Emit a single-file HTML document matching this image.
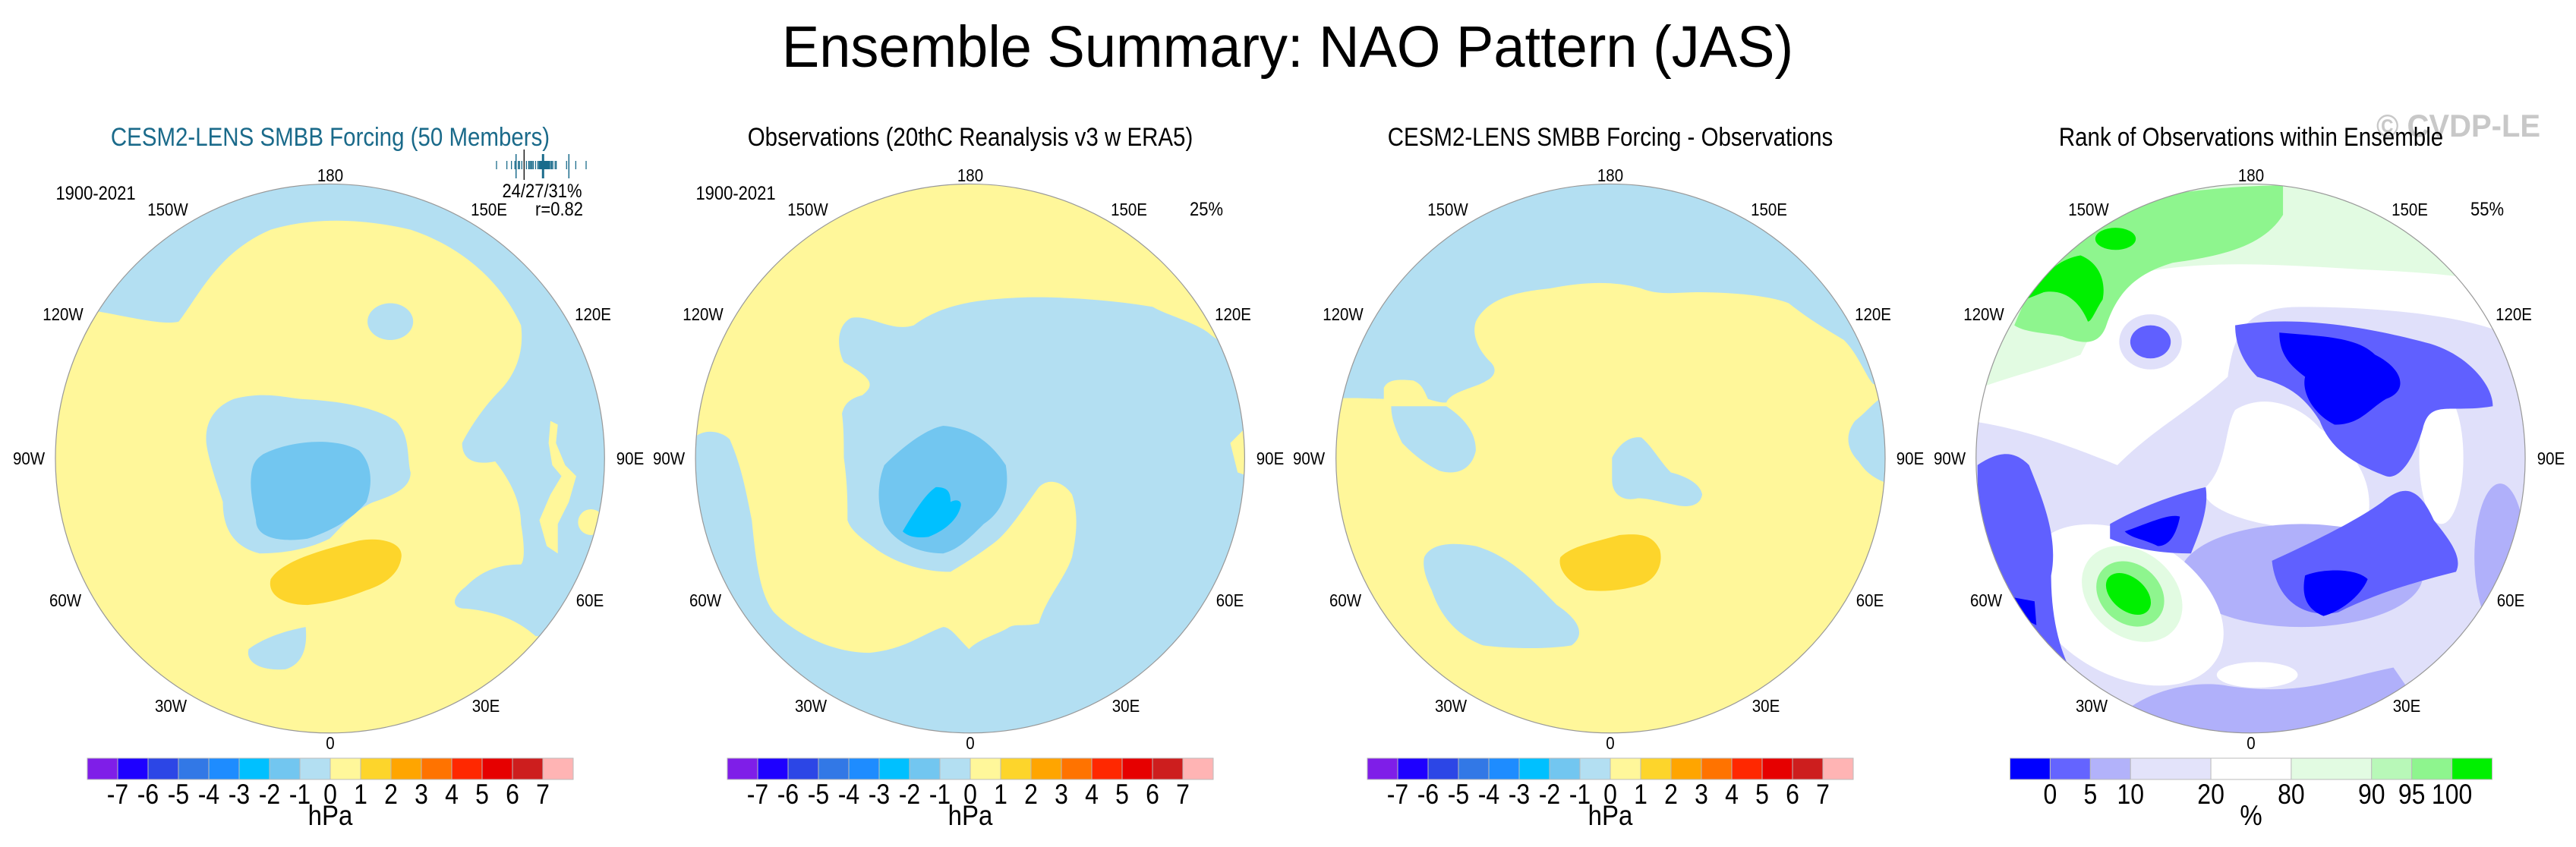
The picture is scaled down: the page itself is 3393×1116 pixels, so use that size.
<!DOCTYPE html>
<html><head><meta charset="utf-8"><title>Ensemble Summary: NAO Pattern (JAS)</title>
<style>html,body{margin:0;padding:0;background:#fff;}svg{display:block;font-family:"Liberation Sans",sans-serif;}</style>
</head><body>
<svg id="fig" xmlns="http://www.w3.org/2000/svg" width="3393" height="1116" viewBox="0 0 3393 1116">
<defs>
<clipPath id="c1"><circle cx="781" cy="782" r="746"/></clipPath>
<clipPath id="c2"><circle cx="773" cy="782" r="746"/></clipPath>
<clipPath id="c3"><circle cx="766" cy="782" r="746"/></clipPath>
<clipPath id="c4"><circle cx="762" cy="782" r="746"/></clipPath>
</defs>
<rect width="3393" height="1116" fill="#fff"/>

<!-- Panel 1 map -->
<g transform="translate(56,225) scale(0.4848)">
<g clip-path="url(#c1)">
<rect x="0" y="0" width="1600" height="1600" fill="#fff79a"/>
<path fill="#b3dff2" d="M150,382 C250,400 330,420 370,410 C430,330 480,220 620,160 C720,130 850,125 1000,160 C1150,210 1250,310 1300,420 C1310,500 1280,560 1240,600 C1200,640 1160,700 1140,740 C1140,790 1180,800 1230,790 C1270,840 1300,900 1300,960 C1310,1020 1310,1060 1300,1070 C1250,1070 1200,1080 1150,1130 C1110,1160 1110,1190 1150,1190 C1250,1200 1300,1230 1340,1265 L1600,1265 L1600,0 L0,0 L0,382 Z"/>
<path fill="#fff79a" d="M1380,680 L1400,690 L1395,740 L1420,800 L1450,830 L1430,900 L1400,960 L1400,1040 L1370,1020 L1350,950 L1380,880 L1410,830 L1385,800 L1375,740 Z"/>
<ellipse fill="#fff79a" cx="1490" cy="955" rx="35" ry="35"/>
<ellipse fill="#b3dff2" cx="945" cy="410" rx="62" ry="50"/>
<path fill="#b3dff2" d="M520,620 C600,600 650,615 700,620 C800,625 900,640 960,680 C1000,720 990,780 1000,820 C1000,860 960,880 900,900 C850,920 820,960 780,1000 C720,1030 650,1040 590,1040 C510,1020 490,960 490,900 C470,840 450,780 445,740 C440,680 470,640 520,620 Z"/>
<path fill="#72c6f0" d="M600,770 C680,730 800,725 860,760 C900,800 895,860 880,900 C840,950 780,980 720,1000 C650,1010 580,1000 580,950 C570,900 560,850 570,810 C575,790 585,780 600,770 Z"/>
<path fill="#fdd52b" d="M620,1110 C650,1060 760,1030 860,1005 C920,995 980,1010 975,1050 C970,1090 940,1120 880,1140 C830,1160 780,1175 720,1180 C650,1180 610,1150 620,1110 Z"/>
<path fill="#b3dff2" d="M560,1300 C600,1270 660,1250 715,1240 C720,1290 710,1340 660,1355 C600,1360 550,1340 560,1300 Z"/>
</g>
<circle cx="781" cy="782" r="746" fill="none" stroke="#999" stroke-width="2.5"/>
</g>

<!-- Panel 2 map -->
<g transform="translate(903,225) scale(0.4848)">
<g clip-path="url(#c2)">
<rect x="0" y="0" width="1600" height="1600" fill="#b3dff2"/>
<path fill="#fff79a" d="M0,0 L1568,0 L1568,480 C1500,480 1450,470 1420,440 C1380,410 1300,390 1270,370 C1150,350 1000,340 900,345 C800,350 700,360 620,420 C560,440 500,390 450,400 C410,420 410,480 430,520 C500,560 520,580 480,610 C440,620 430,640 425,660 C430,700 430,740 430,780 C440,850 440,900 440,950 C450,980 480,1000 520,1030 C580,1070 650,1090 720,1090 C770,1060 800,1040 840,1010 C880,980 930,900 960,860 C990,830 1030,850 1050,880 C1070,940 1060,1000 1050,1050 C1030,1110 980,1160 960,1230 C920,1240 900,1230 880,1240 C850,1260 800,1270 770,1300 C740,1270 720,1240 700,1240 C640,1260 600,1300 500,1310 C400,1310 300,1260 240,1200 C200,1150 190,1050 180,950 C160,850 150,800 120,730 C100,710 60,700 30,720 L0,720 Z"/>
<path fill="#fff79a" d="M1480,740 L1520,700 L1530,830 L1500,820 Z"/>
<path fill="#72c6f0" d="M540,800 C600,740 660,700 700,693 C780,700 830,740 870,800 C880,860 870,920 810,960 C770,1000 740,1030 700,1040 C630,1040 570,1010 540,960 C520,910 520,850 540,800 Z"/>
<path fill="#00c0ff" d="M590,980 C620,930 650,880 680,860 C710,860 720,870 720,900 C740,890 750,900 748,910 C740,950 700,980 660,995 C620,1000 600,990 590,980 Z"/>
</g>
<circle cx="773" cy="782" r="746" fill="none" stroke="#999" stroke-width="2.5"/>
</g>

<!-- Panel 3 map -->
<g transform="translate(1750,225) scale(0.4848)">
<g clip-path="url(#c3)">
<rect x="0" y="0" width="1600" height="1600" fill="#fff79a"/>
<path fill="#b3dff2" d="M0,620 C60,615 120,620 150,620 L150,590 C160,570 180,565 230,570 C255,580 260,600 270,620 C300,630 310,630 320,630 C330,600 400,590 430,570 C450,560 460,540 440,520 C400,480 390,440 400,410 C430,350 500,330 600,320 C700,300 780,300 850,320 C900,340 950,330 1000,330 C1100,330 1200,340 1250,360 C1300,400 1350,430 1400,460 C1440,500 1460,560 1480,580 L1568,580 L1568,0 L0,0 Z"/>
<path fill="#b3dff2" d="M170,640 C230,640 280,640 320,640 C380,680 400,720 400,760 C390,810 350,830 300,815 C250,790 220,760 200,740 C180,700 170,670 170,640 Z"/>
<path fill="#b3dff2" d="M1568,590 C1500,600 1480,640 1430,680 C1400,720 1410,760 1440,790 C1460,820 1490,850 1568,860 Z"/>
<path fill="#b3dff2" d="M770,780 C790,740 820,720 850,725 C880,750 900,790 930,820 C970,830 1010,850 1015,880 C1010,910 980,915 950,910 C900,900 870,890 840,890 C800,900 770,880 770,840 Z"/>
<path fill="#b3dff2" d="M260,1050 C280,1010 340,1010 400,1020 C500,1050 560,1120 620,1180 C680,1220 700,1260 660,1290 C600,1300 500,1300 420,1290 C340,1260 300,1200 280,1140 C260,1100 255,1070 260,1050 Z"/>
<path fill="#fdd52b" d="M630,1050 C660,1020 720,1010 790,990 C850,985 880,990 900,1030 C910,1070 890,1110 850,1125 C800,1140 750,1145 700,1140 C650,1120 620,1080 630,1050 Z"/>
</g>
<circle cx="766" cy="782" r="746" fill="none" stroke="#999" stroke-width="2.5"/>
</g>

<!-- Panel 4 map -->
<g transform="translate(2595,225) scale(0.4848)">
<g clip-path="url(#c4)">
<rect x="0" y="0" width="1600" height="1600" fill="#ffffff"/>
<path fill="#e2fbe2" d="M0,0 L1568,0 L1568,340 C1400,290 1300,280 1100,270 C900,260 700,240 500,270 C400,300 350,400 300,500 C200,540 100,560 0,600 Z"/>
<path fill="#8ef58e" d="M120,420 C200,220 300,150 450,80 C600,50 750,40 850,40 L850,120 C800,200 700,230 550,250 C450,280 400,330 370,420 C350,480 300,470 250,450 C200,440 150,440 120,420 Z"/>
<path fill="#00f000" d="M150,350 C200,280 240,240 300,230 C350,250 370,300 360,350 C340,380 330,410 320,410 C300,360 260,320 200,330 Z"/>
<ellipse fill="#00f000" cx="395" cy="185" rx="55" ry="30"/>
<path fill="#e0e0fa" d="M0,680 C150,700 300,760 400,800 C500,700 600,650 700,560 C720,420 760,370 900,370 C1100,370 1300,390 1420,430 L1568,520 L1568,1568 L0,1568 Z"/>
<ellipse fill="#e0e0fa" cx="490" cy="465" rx="85" ry="75"/>
<path fill="#ffffff" d="M720,650 C800,600 900,640 950,700 C1050,760 1100,850 1080,950 C1000,990 900,980 800,960 C700,940 620,900 640,860 C700,800 690,700 720,650 Z"/>
<ellipse fill="#ffffff" cx="1280" cy="780" rx="60" ry="180"/>
<ellipse fill="#b0b0fa" cx="900" cy="1100" rx="330" ry="140"/>
<path fill="#b0b0fa" d="M350,1568 C400,1420 600,1380 700,1400 C900,1430 1000,1380 1150,1350 L1300,1568 Z"/>
<ellipse fill="#ffffff" cx="780" cy="1370" rx="110" ry="35"/>
<ellipse fill="#b0b0fa" cx="1440" cy="1050" rx="70" ry="200"/>
<ellipse fill="#ffffff" cx="420" cy="1180" rx="290" ry="190" transform="rotate(30 420 1180)"/>
<ellipse fill="#e2fbe2" cx="440" cy="1150" rx="150" ry="115" transform="rotate(40 440 1150)"/>
<ellipse fill="#8ef58e" cx="435" cy="1150" rx="100" ry="80" transform="rotate(40 435 1150)"/>
<ellipse fill="#00f000" cx="430" cy="1150" rx="70" ry="45" transform="rotate(40 430 1150)"/>
<path fill="#6060ff" d="M20,800 C80,760 120,760 160,800 C200,900 240,1000 220,1100 C220,1250 260,1350 300,1400 C200,1380 120,1300 80,1200 C40,1100 20,1000 20,800 Z"/>
<path fill="#6060ff" d="M380,960 C450,920 550,880 640,860 C650,920 620,990 600,1040 C520,1040 450,1030 380,1000 Z"/>
<path fill="#6060ff" d="M720,420 C900,390 1100,430 1250,470 C1350,500 1420,580 1420,640 C1300,660 1250,620 1230,700 C1200,800 1160,840 1130,830 C1050,800 980,760 950,680 C900,600 850,580 780,560 C740,520 720,470 720,420 Z"/>
<path fill="#6060ff" d="M820,1060 C950,1000 1050,950 1120,900 C1180,850 1220,860 1260,950 C1300,1000 1340,1050 1320,1090 C1200,1120 1100,1150 1000,1200 C900,1220 830,1160 820,1060 Z"/>
<ellipse fill="#6060ff" cx="490" cy="465" rx="55" ry="45"/>
<path fill="#0000ff" d="M840,440 C950,450 1050,450 1100,500 C1180,540 1190,600 1130,620 C1080,650 1060,690 990,690 C930,660 900,600 910,560 C870,530 840,500 840,440 Z"/>
<path fill="#0000ff" d="M910,1100 C960,1080 1050,1080 1080,1110 C1060,1160 1000,1200 960,1210 C910,1190 900,1150 910,1100 Z"/>
<path fill="#0000ff" d="M420,980 C480,960 540,930 570,940 C560,990 540,1020 510,1020 C470,1000 440,1000 420,980 Z"/>
<path fill="#0000ff" d="M120,1160 L175,1170 L180,1235 L150,1220 Z"/>
</g>
<circle cx="762" cy="782" r="746" fill="none" stroke="#999" stroke-width="2.5"/>
</g>

<g id="overlay"></g>
</svg>
<script>
// Colorbar data
const hpaLevels = [-7,-6,-5,-4,-3,-2,-1,0,1,2,3,4,5,6,7];
const hpaColors = ["#7f1ee8","#1e00ff","#2c46e6","#3278e6","#1e8cff","#00c0ff","#72c6f0","#b3dff2","#fff79a","#fdd52b","#ffa500","#ff7300","#ff2800","#e60000","#cd1e1e","#ffb4b4"];
const rankLevels = [0,5,10,20,80,90,95,100];
const rankColors = ["#0000ff","#6464ff","#b2b2fa","#e3e3fa","#ffffff","#e2fbe2","#b8f8b8","#8ef58e","#00f000"];
const rankWidths = [1,1,1,2,2,2,1,1,1];
const panelCenters = [435,1278,2121,2965];
const panelTitles = ["CESM2-LENS SMBB Forcing (50 Members)","Observations (20thC Reanalysis v3 w ERA5)","CESM2-LENS SMBB Forcing - Observations","Rank of Observations within Ensemble"];
const lonLabels = ["180","0","150W","150E","120W","120E","90W","90E","60W","60E","30W","30E"];
const rugValues = [0.38,0.47,0.51,0.54,0.55,0.57,0.58,0.60,0.64,0.66,0.67,0.68,0.69,0.70,0.72,0.74,0.75,0.755,0.76,0.765,0.77,0.775,0.78,0.785,0.79,0.795,0.80,0.805,0.81,0.815,0.82,0.825,0.83,0.835,0.84,0.85,0.86,0.87,0.89,0.90,0.99,1.01,1.07,1.16];
const rugLong = [0.55,0.785,1.01];
const obsValue = 0.62;

const svg = document.getElementById('overlay');
const NS = 'http://www.w3.org/2000/svg';
function txt(s, x, y, fs, anchor, fill, sy, weight){
  const t = document.createElementNS(NS,'text');
  t.setAttribute('transform','translate('+x+','+y+') scale(1,'+sy+')');
  t.setAttribute('font-size',fs);
  t.setAttribute('text-anchor',anchor);
  t.setAttribute('fill',fill);
  if(weight) t.setAttribute('font-weight',weight);
  t.textContent = s;
  svg.appendChild(t);
  return t;
}
function rect(x,y,w,h,fill){
  const r = document.createElementNS(NS,'rect');
  r.setAttribute('x',x);r.setAttribute('y',y);r.setAttribute('width',w);r.setAttribute('height',h);
  r.setAttribute('fill',fill);r.setAttribute('stroke','#bbb');r.setAttribute('stroke-width','1');
  svg.appendChild(r);
  return r;
}

let t = txt("Ensemble Summary: NAO Pattern (JAS)", 1696, 88, 74, 'middle', '#000', 1.04);


t = txt("\u00A9 CVDP-LE", 3238, 180, 40, 'middle', '#c8c8c8', 1.05, 'bold');



const labDx = [0,0,-214,209,-352,346,-397,395,-349,342,-210,205];
const labDy = [-373,375,-328,-328,-190,-190,0,0,187,187,326,326];
panelCenters.forEach(function(cx,p){
  const tt = txt(panelTitles[p], cx, 192, 29.5, 'middle', p===0?'#1a6a8a':'#000', 1.15);
  
  
  lonLabels.forEach(function(l,i){
    const lt = txt(l, cx+labDx[i], 604+labDy[i]+8, 20.5, 'middle', '#000', 1.12);
    
    
  });
  if(p<3){
    const bw = 40, x0 = cx - 8*bw;
    hpaColors.forEach(function(c,i){
      const r = rect(x0+i*bw, 999, bw, 28, c);
      
      
    });
    hpaLevels.forEach(function(v,i){
      const lt = txt(String(v), x0+(i+1)*bw, 1059, 32, 'middle', '#000', 1.15);
      
      
    });
    const u = txt('hPa', cx, 1087, 33, 'middle', '#000', 1.12);
    
    
  } else {
    const unit = 635/12; let x = cx - 317.5; const edges=[];
    rankColors.forEach(function(c,i){
      const r = rect(x, 999, unit*rankWidths[i], 28, c);
      
      
      x += unit*rankWidths[i]; edges.push(x);
    });
    rankLevels.forEach(function(v,i){
      const lt = txt(String(v), edges[i], 1059, 32, 'middle', '#000', 1.15);
      
      
    });
    const u = txt('%', cx, 1087, 33, 'middle', '#000', 1.12);
    
    
  }
});

// Extras
t = txt('1900-2021', 126, 263, 22, 'middle', '#000', 1.15);


t = txt('1900-2021', 969, 263, 22, 'middle', '#000', 1.15);


t = txt('24/27/31%', 714, 260, 22, 'middle', '#000', 1.15);


t = txt('r=0.82', 768, 284, 22, 'end', '#000', 1.15);


t = txt('25%', 1589, 284, 22, 'middle', '#000', 1.15);


t = txt('55%', 3276, 284, 22, 'middle', '#000', 1.15);



// Rug plot of ensemble member correlations
const rugX0 = 654, rugX1 = 772, vMin = 0.38, vMax = 1.16;
function rx(v){ return rugX0 + (v - vMin)/(vMax - vMin)*(rugX1 - rugX0); }
rugValues.forEach(function(v){
  const l = document.createElementNS(NS,'line');
  l.setAttribute('x1',rx(v));l.setAttribute('x2',rx(v));
  l.setAttribute('y1',212);l.setAttribute('y2',223);
  l.setAttribute('stroke','#1b6c8c');l.setAttribute('stroke-width','1.3');
  
  
  svg.appendChild(l);
});
rugLong.forEach(function(v,i){
  const l = document.createElementNS(NS,'line');
  l.setAttribute('x1',rx(v));l.setAttribute('x2',rx(v));
  l.setAttribute('y1',203);l.setAttribute('y2',235);
  l.setAttribute('stroke','#1b6c8c');l.setAttribute('stroke-width', i===1?'3':'1.5');
  
  
  svg.appendChild(l);
});
const ob = document.createElementNS(NS,'line');
ob.setAttribute('x1',rx(obsValue));ob.setAttribute('x2',rx(obsValue));
ob.setAttribute('y1',197);ob.setAttribute('y2',237);
ob.setAttribute('stroke','#000');ob.setAttribute('stroke-width','1.3');


svg.appendChild(ob);
</script>
</body></html>
